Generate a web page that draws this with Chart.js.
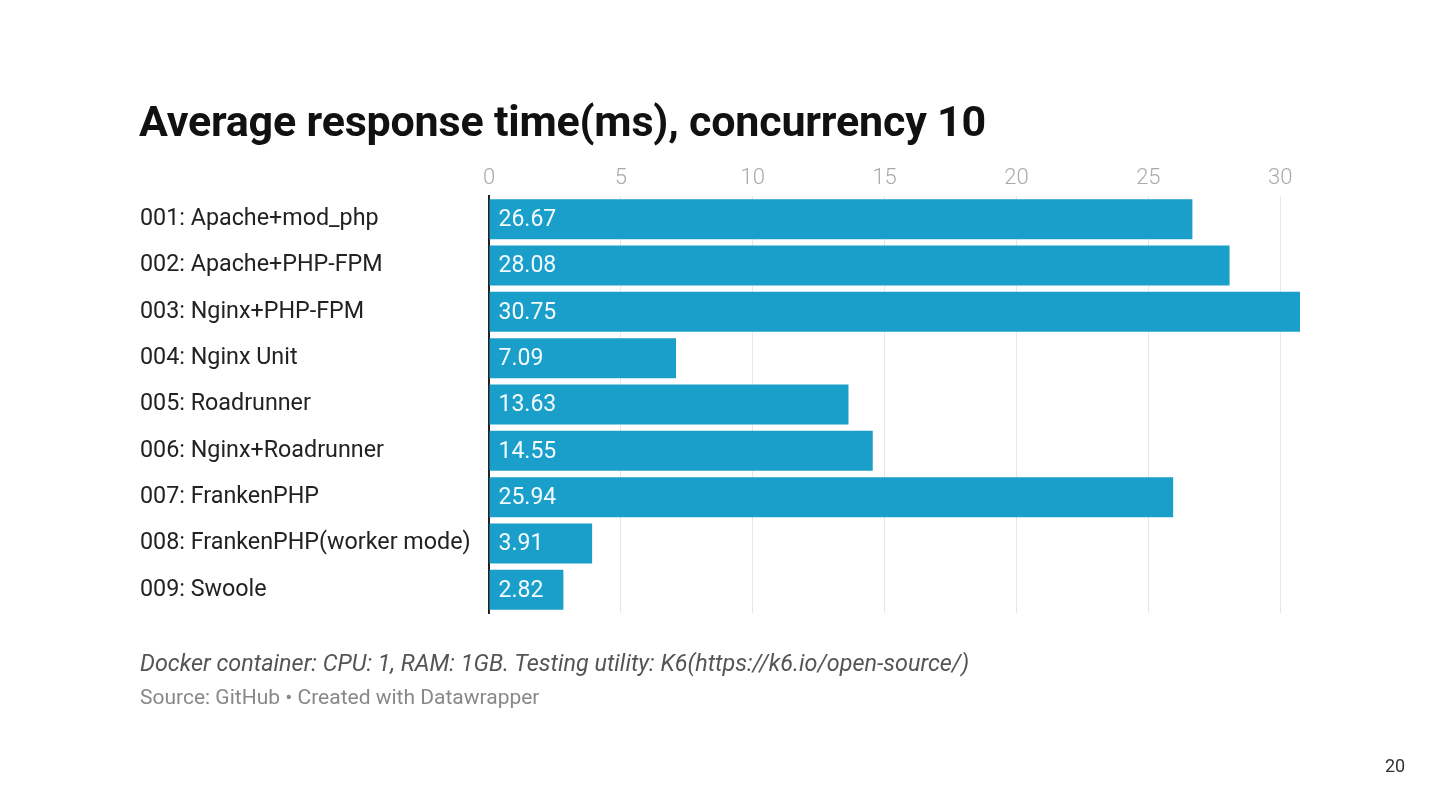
<!DOCTYPE html>
<html>
<head>
<meta charset="utf-8">
<script src="https://cdn.jsdelivr.net/npm/chart.js@4/dist/chart.umd.min.js"></script>
<style>
  html, body { margin: 0; padding: 0; background: #fff; }
  body { width: 1440px; height: 810px; position: relative; overflow: hidden; font-family: Roboto, "Noto Sans", sans-serif; }
  #chartBox { position: absolute; left: 0; top: 0; width: 1440px; height: 810px; }
  .title { position: absolute; left: 139px; top: 96px; font-size: 43px; font-weight: bold; color: #111; letter-spacing: -0.2px; }
  .note { position: absolute; left: 140px; top: 649px; font-size: 23.4px; font-style: italic; color: #555; }
  .source { position: absolute; left: 140px; top: 685px; font-size: 21px; color: #888; }
  .page { position: absolute; left: 1385px; top: 755px; font-size: 18px; color: #333; }
</style>
</head>
<body>
<div id="chartBox"><canvas id="responseChart"></canvas></div>
<div class="title">Average response time(ms), concurrency 10</div>
<div class="note">Docker container: CPU: 1, RAM: 1GB. Testing utility: K6(https://k6.io/open-source/)</div>
<div class="source">Source: GitHub • Created with Datawrapper</div>
<div class="page">20</div>
<script>
const servers = [
  '001: Apache+mod_php',
  '002: Apache+PHP-FPM',
  '003: Nginx+PHP-FPM',
  '004: Nginx Unit',
  '005: Roadrunner',
  '006: Nginx+Roadrunner',
  '007: FrankenPHP',
  '008: FrankenPHP(worker mode)',
  '009: Swoole',
];
const responseTimes = [26.67, 28.08, 30.75, 7.09, 13.63, 14.55, 25.94, 3.91, 2.82];
const tickValues = [0, 5, 10, 15, 20, 25, 30];

// write the value inside each bar, near its start
const valueLabels = {
  id: 'valueLabels',
  afterDatasetsDraw(chart) {
    const ctx = chart.ctx;
    const meta = chart.getDatasetMeta(0);
    ctx.save();
    ctx.font = '23px Roboto';
    ctx.fillStyle = '#f4fbff';
    ctx.textAlign = 'left';
    ctx.textBaseline = 'middle';
    meta.data.forEach((bar, i) => {
      ctx.fillText(responseTimes[i].toFixed(2), bar.base + 9, bar.y + 1);
    });
    ctx.restore();
  },
};

const responseChart = new Chart(document.getElementById('responseChart'), {
  type: 'bar',
  data: {
    labels: servers,
    datasets: [
      {
        data: responseTimes,
        backgroundColor: '#1a9fca',
        categoryPercentage: 1,
        barPercentage: 0.8625,
      },
    ],
  },
  options: {
    indexAxis: 'y',
    responsive: true,
    maintainAspectRatio: false,
    animation: false,
    layout: {
      padding: { left: 140, right: 140, top: 156, bottom: 197 },
    },
    plugins: {
      legend: { display: false },
      tooltip: { enabled: false },
    },
    scales: {
      x: {
        position: 'top',
        min: 0,
        max: 30.75,
        afterBuildTicks: (axis) => {
          axis.ticks = tickValues.map((v) => ({ value: v }));
        },
        afterFit: (axis) => {
          axis.height = 40;
        },
        ticks: {
          color: '#aaa',
          font: { family: 'Roboto', size: 22, weight: '300' },
          padding: 4,
        },
        grid: {
          color: '#e6e6e6',
          lineWidth: 1,
          drawTicks: false,
        },
        border: { display: false },
      },
      y: {
        afterFit: (axis) => {
          axis.width = 349;
        },
        ticks: {
          color: '#222',
          font: { family: 'Roboto', size: 23.3 },
          crossAlign: 'far',
          padding: 0,
        },
        grid: { display: false },
        border: { display: true, color: '#222', width: 2 },
      },
    },
  },
  plugins: [valueLabels],
});
</script>
</body>
</html>
